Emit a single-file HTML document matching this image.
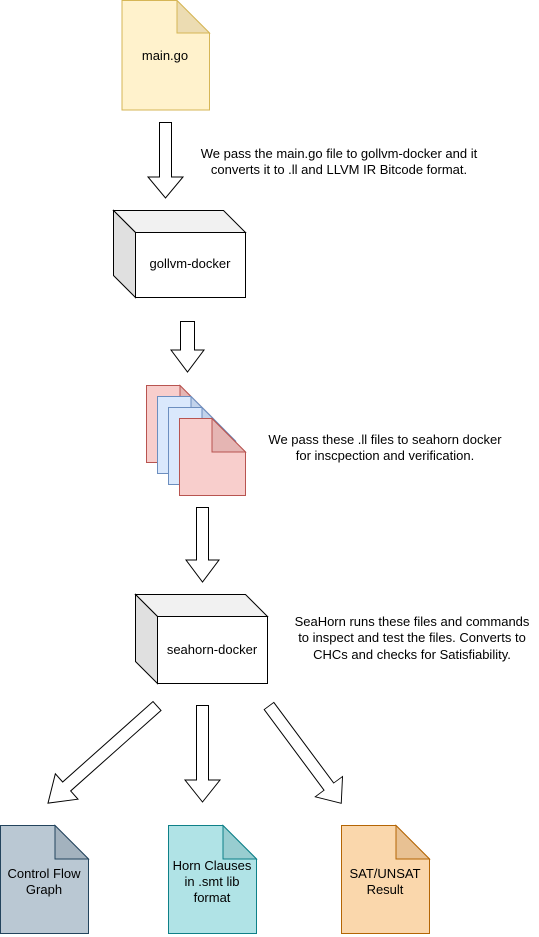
<!DOCTYPE html>
<html><head><meta charset="utf-8"><style>
html,body{margin:0;padding:0;background:#fff;}
svg{display:block;}
text{font-family:"Liberation Sans",Arial,sans-serif;font-size:13px;fill:#000;}
</style></head><body>
<svg width="539" height="937" viewBox="0 0 539 937" xmlns="http://www.w3.org/2000/svg">
<defs>
<g id="arr"><path d="M0,-6 L121,-6 L121,-17 L146,0 L121,17 L121,6 L0,6 Z" fill="#fff" stroke="#000" stroke-width="1"/></g>
</defs>
<path d="M122,0.5 L177,0.5 L209.5,33 L209.5,110 L122,110 Z" fill="#fff2cc" stroke="#d6b656"/>
<path d="M177,0.5 L177,33 L209.5,33 Z" fill="#ecdcb2" stroke="#d6b656"/>
<text x="165" y="60" text-anchor="middle">main.go</text>

<path d="M159.5,122.5 L171.5,122.5 L171.5,177 L183,177 L165.5,198 L148,177 L159.5,177 Z" fill="#fff" stroke="#000"/>
<text x="339" y="158" text-anchor="middle">We pass the main.go file to gollvm-docker and it</text>
<text x="339" y="174" text-anchor="middle">converts it to .ll and LLVM IR Bitcode format.</text>

<path d="M113.5,210.5 L223.5,210.5 L245.5,232.5 L135.5,232.5 Z" fill="#f1f1f1" stroke="#000"/>
<path d="M113.5,210.5 L135.5,232.5 L135.5,297.5 L113.5,275.5 Z" fill="#e0e0e0" stroke="#000"/>
<rect x="135.5" y="232.5" width="110" height="65" fill="#fff" stroke="#000"/>
<text x="190" y="268" text-anchor="middle">gollvm-docker</text>

<path d="M180.5,321.5 L194.5,321.5 L194.5,350 L204,350 L187.5,372 L171,350 L180.5,350 Z" fill="#fff" stroke="#000"/>

<g>
<path d="M146.5,385.5 L180,385.5 L213.5,419 L213.5,462.5 L146.5,462.5 Z" fill="#f8cecc" stroke="#b85450"/>
<path d="M180,385.5 L180,419 L213.5,419 Z" fill="#e5b5b3" stroke="#b85450"/>
<path d="M157.5,396.5 L191,396.5 L224.5,430 L224.5,473.5 L157.5,473.5 Z" fill="#dae8fc" stroke="#6c8ebf"/>
<path d="M191,396.5 L191,430 L224.5,430 Z" fill="#c2d3eb" stroke="#6c8ebf"/>
<path d="M168.5,407.5 L202,407.5 L235.5,441 L235.5,484.5 L168.5,484.5 Z" fill="#dae8fc" stroke="#6c8ebf"/>
<path d="M202,407.5 L202,441 L235.5,441 Z" fill="#c2d3eb" stroke="#6c8ebf"/>
<path d="M179.5,418.5 L212,418.5 L245.5,452 L245.5,495.5 L179.5,495.5 Z" fill="#f8cecc" stroke="#b85450"/>
<path d="M212,418.5 L212,452 L245.5,452 Z" fill="#e5b5b3" stroke="#b85450"/>
</g>
<text x="385" y="444" text-anchor="middle">We pass these .ll files to seahorn docker</text>
<text x="385" y="460" text-anchor="middle">for inscpection and verification.</text>

<path d="M196.5,507.5 L208.5,507.5 L208.5,560 L219,560 L202.5,582 L186,560 L196.5,560 Z" fill="#fff" stroke="#000"/>

<path d="M135.5,594.5 L245.5,594.5 L267.5,616.5 L157.5,616.5 Z" fill="#f1f1f1" stroke="#000"/>
<path d="M135.5,594.5 L157.5,616.5 L157.5,683.5 L135.5,661.5 Z" fill="#e0e0e0" stroke="#000"/>
<rect x="157.5" y="616.5" width="110" height="67" fill="#fff" stroke="#000"/>
<text x="212" y="654" text-anchor="middle">seahorn-docker</text>
<text x="412" y="626" text-anchor="middle">SeaHorn runs these files and commands</text>
<text x="412" y="642" text-anchor="middle">to inspect and test the files. Converts to</text>
<text x="412" y="659" text-anchor="middle">CHCs and checks for Satisfiability.</text>

<use href="#arr" transform="translate(157,706) rotate(138.3)"/>
<path d="M196.5,705.5 L208.5,705.5 L208.5,780 L220,780 L202.5,802 L185,780 L196.5,780 Z" fill="#fff" stroke="#000"/>
<use href="#arr" transform="translate(269,706) rotate(53.4) scale(0.83,1)"/>

<path d="M0.5,825.5 L55,825.5 L88.5,859 L88.5,933.5 L0.5,933.5 Z" fill="#bac8d3" stroke="#23445d"/>
<path d="M55,825.5 L55,859 L88.5,859 Z" fill="#a3b2be" stroke="#23445d"/>
<text x="44" y="878" text-anchor="middle">Control Flow</text>
<text x="44" y="894" text-anchor="middle">Graph</text>

<path d="M168.5,825.5 L223,825.5 L256.5,859 L256.5,933.5 L168.5,933.5 Z" fill="#b0e3e6" stroke="#0e8088"/>
<path d="M223,825.5 L223,859 L256.5,859 Z" fill="#98cdd0" stroke="#0e8088"/>
<text x="212" y="870" text-anchor="middle">Horn Clauses</text>
<text x="212" y="886" text-anchor="middle">in .smt lib</text>
<text x="212" y="902" text-anchor="middle">format</text>

<path d="M341.5,825.5 L396,825.5 L429.5,859 L429.5,933.5 L341.5,933.5 Z" fill="#fad7ac" stroke="#b46504"/>
<path d="M396,825.5 L396,859 L429.5,859 Z" fill="#e8c193" stroke="#b46504"/>
<text x="385" y="878" text-anchor="middle">SAT/UNSAT</text>
<text x="385" y="894" text-anchor="middle">Result</text>
</svg>
</body></html>
